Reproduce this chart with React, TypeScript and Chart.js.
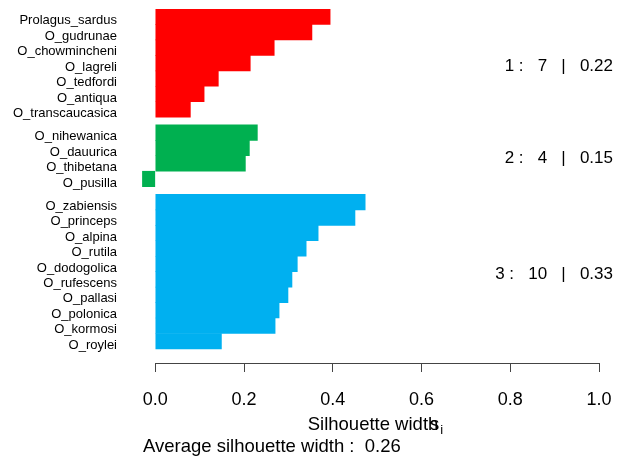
import React, { useEffect, useRef } from "react";
import { Chart, registerables } from "chart.js";

Chart.register(...registerables);

// ---- data ----
const cluster1Names = ["Prolagus_sardus", "O_gudrunae", "O_chowmincheni", "O_lagreli", "O_tedfordi", "O_antiqua", "O_transcaucasica"];
const cluster1Values = [0.394, 0.353, 0.268, 0.214, 0.142, 0.110, 0.079];

const cluster2Names = ["O_nihewanica", "O_dauurica", "O_thibetana", "O_pusilla"];
const cluster2Values = [0.230, 0.212, 0.203, -0.029];

const cluster3Names = ["O_zabiensis", "O_princeps", "O_alpina", "O_rutila", "O_dodogolica", "O_rufescens", "O_pallasi", "O_polonica", "O_kormosi", "O_roylei"];
const cluster3Values = [0.473, 0.450, 0.367, 0.340, 0.320, 0.308, 0.299, 0.279, 0.270, 0.149];

const clusterColors = ["#FF0000", "#00B050", "#00B0F0"];
const clusterAverages = [0.22, 0.15, 0.33];
const averageWidth = 0.26;
const xTickValues = [0, 0.2, 0.4, 0.6, 0.8, 1.0];

const FONT = "'Liberation Sans', Arial, Helvetica, sans-serif";

export default function App() {
  const ref = useRef<HTMLCanvasElement | null>(null);

  useEffect(() => {
    const clusters = [
      { names: cluster1Names, values: cluster1Values },
      { names: cluster2Names, values: cluster2Values },
      { names: cluster3Names, values: cluster3Values },
    ];
    const names: string[] = [];
    const points: { x: number; y: number }[] = [];
    const colors: string[] = [];
    const clusterPos: number[][] = [];
    let pos = 0;
    clusters.forEach((c, ci) => {
      if (ci > 0) pos += 0.5;
      const arr: number[] = [];
      c.names.forEach((n, i) => {
        names.push(n);
        points.push({ x: c.values[i], y: pos });
        colors.push(clusterColors[ci]);
        arr.push(pos);
        pos += 1;
      });
      clusterPos.push(arr);
    });
    const positions = points.map((p) => p.y);

    const overlay = {
      id: "silOverlay",
      afterDraw(chart: any) {
        const ctx = chart.ctx;
        const xs = chart.scales.x;
        const ys = chart.scales.y;
        const area = chart.chartArea;
        ctx.save();
        // axis line from first to last tick
        ctx.strokeStyle = "#444";
        ctx.lineWidth = 1;
        const yl = Math.floor(area.bottom) + 0.5;
        ctx.beginPath();
        ctx.moveTo(Math.round(xs.getPixelForValue(xTickValues[0])) + 0.5, yl);
        ctx.lineTo(Math.round(xs.getPixelForValue(xTickValues[xTickValues.length - 1])) + 0.5, yl);
        ctx.stroke();

        // cluster statistics on the right
        ctx.fillStyle = "#000";
        ctx.font = `17px ${FONT}`;
        ctx.textAlign = "right";
        ctx.textBaseline = "middle";
        clusterPos.forEach((arr, ci) => {
          const mid = arr.reduce((a, b) => a + b, 0) / arr.length;
          const y = ys.getPixelForValue(mid) + 3;
          const txt = `${ci + 1} :   ${arr.length}   |   ${clusterAverages[ci].toFixed(2)}`;
          ctx.fillText(txt, xs.getPixelForValue(1) + 14, y);
        });

        // x axis title: "Silhouette width s_i"
        ctx.textAlign = "left";
        ctx.textBaseline = "alphabetic";
        ctx.font = `18.5px ${FONT}`;
        const cx = (area.left + area.right) / 2;
        const left = cx - 62.8;
        const base = 430;
        ctx.fillText("Silhouette width", left, base);
        const wPart = ctx.measureText("Silhouette widt").width;
        ctx.fillText("s", left + wPart + 2, base);
        const sW = ctx.measureText("s").width;
        ctx.font = `13px ${FONT}`;
        ctx.fillText("i", left + wPart + 2 + sW + 1, base + 4);

        // subtitle
        ctx.font = `18.5px ${FONT}`;
        ctx.fillText(`Average silhouette width :  ${averageWidth.toFixed(2)}`, area.left + 1, 452);
        ctx.restore();
      },
    };

    const chart = new Chart(ref.current as HTMLCanvasElement, {
      type: "bar",
      data: {
        datasets: [
          {
            data: points,
            backgroundColor: colors,
            borderWidth: 0,
            barPercentage: 1,
            categoryPercentage: 1,
          } as any,
        ],
      },
      options: {
        indexAxis: "y",
        animation: false,
        responsive: false,
        events: [],
        layout: { padding: { top: 9, right: 18, bottom: 0, left: 0 } },
        plugins: { legend: { display: false }, tooltip: { enabled: false }, title: { display: false } },
        scales: {
          x: {
            type: "linear",
            min: -0.03,
            max: 1,
            border: { display: false },
            grid: { drawOnChartArea: false, drawTicks: true, tickLength: 9, color: "#444" },
            ticks: {
              autoSkip: false,
              maxRotation: 0,
              padding: 17,
              color: "#000",
              font: { family: FONT, size: 18 },
              callback: (v: any) => Number(v).toFixed(1),
            },
            afterBuildTicks: (scale: any) => {
              scale.ticks = xTickValues.map((v) => ({ value: v }));
            },
            afterFit: (scale: any) => {
              scale.height = 111;
              scale.paddingLeft = 0;
              scale.paddingRight = 0;
              scale.paddingTop = 0;
              scale.paddingBottom = 0;
            },
          },
          y: {
            type: "linear",
            reverse: true,
            offset: false,
            min: -0.5,
            max: 22.41,
            border: { display: false },
            grid: { display: false, drawTicks: false, offset: false },
            ticks: {
              autoSkip: false,
              padding: 25,
              labelOffset: 4,
              color: "#000",
              font: { family: FONT, size: 13, lineHeight: 0.01 },
              callback: (_v: any, i: number) => names[i],
            },
            afterBuildTicks: (scale: any) => {
              scale.ticks = positions.map((v) => ({ value: v }));
            },
            afterFit: (scale: any) => {
              scale.width = 142;
              scale.paddingTop = 0;
              scale.paddingBottom = 0;
              scale.paddingLeft = 0;
              scale.paddingRight = 0;
            },
          },
        },
      },
      plugins: [overlay],
    });
    return () => chart.destroy();
  }, []);

  return (
    <div style={{ position: "fixed", left: 0, top: 0, width: 617, height: 474, background: "#fff" }}>
      <canvas ref={ref} width={617} height={474} style={{ display: "block" }} />
    </div>
  );
}
